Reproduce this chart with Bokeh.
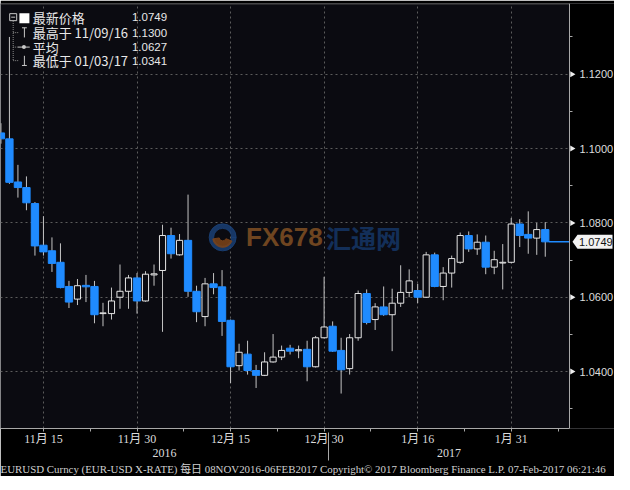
import math
from bokeh.plotting import figure
from bokeh.models import (ColumnDataSource, LinearAxis, FixedTicker, Range1d, Grid, Title)
from bokeh.core.properties import value
from bokeh.embed import file_html
from bokeh.resources import INLINE

# ---------------- data ----------------
dates = [
    "2016-11-08", "2016-11-09", "2016-11-10", "2016-11-11", "2016-11-14", "2016-11-15",
    "2016-11-16", "2016-11-17", "2016-11-18", "2016-11-21", "2016-11-22", "2016-11-23",
    "2016-11-24", "2016-11-25", "2016-11-28", "2016-11-29", "2016-11-30",
    "2016-12-01", "2016-12-02", "2016-12-05", "2016-12-06", "2016-12-07", "2016-12-08",
    "2016-12-09", "2016-12-12", "2016-12-13", "2016-12-14", "2016-12-15", "2016-12-16",
    "2016-12-19", "2016-12-20", "2016-12-21", "2016-12-22", "2016-12-23", "2016-12-26",
    "2016-12-27", "2016-12-28", "2016-12-29", "2016-12-30",
    "2017-01-02", "2017-01-03", "2017-01-04", "2017-01-05", "2017-01-06", "2017-01-09",
    "2017-01-10", "2017-01-11", "2017-01-12", "2017-01-13", "2017-01-16", "2017-01-17",
    "2017-01-18", "2017-01-19", "2017-01-20", "2017-01-23", "2017-01-24", "2017-01-25",
    "2017-01-26", "2017-01-27", "2017-01-30", "2017-01-31",
    "2017-02-01", "2017-02-02", "2017-02-03", "2017-02-06",
]
opens = [
    1.1042, 1.1026, 1.0910, 1.0895, 1.0852, 1.0740, 1.0725, 1.0694, 1.0629, 1.0595,
    1.0632, 1.0629, 1.0556, 1.0556, 1.0600, 1.0616, 1.0652, 1.0590, 1.0660, 1.0672,
    1.0766, 1.0714, 1.0753, 1.0616, 1.0548, 1.0636, 1.0628, 1.0538, 1.0416, 1.0447,
    1.0403, 1.0390, 1.0426, 1.0439, 1.0463, 1.0456, 1.0460, 1.0413, 1.0491, 1.0522,
    1.0457, 1.0408, 1.0491, 1.0610, 1.0540, 1.0574, 1.0553, 1.0584, 1.0613, 1.0618,
    1.0600, 1.0714, 1.0629, 1.0665, 1.0694, 1.0766, 1.0730, 1.0748, 1.0681, 1.0692,
    1.0694, 1.0797, 1.0769, 1.0759, 1.0782,
]
highs = [
    1.1068, 1.1300, 1.0956, 1.0925, 1.0856, 1.0818, 1.0761, 1.0745, 1.0644, 1.0649,
    1.0660, 1.0644, 1.0585, 1.0626, 1.0688, 1.0660, 1.0665, 1.0670, 1.0688, 1.0795,
    1.0787, 1.0770, 1.0876, 1.0631, 1.0652, 1.0665, 1.0673, 1.0540, 1.0475, 1.0483,
    1.0418, 1.0452, 1.0501, 1.0470, 1.0472, 1.0470, 1.0483, 1.0496, 1.0655, 1.0535,
    1.0491, 1.0501, 1.0618, 1.0621, 1.0584, 1.0629, 1.0623, 1.0686, 1.0675, 1.0636,
    1.0722, 1.0720, 1.0681, 1.0712, 1.0774, 1.0777, 1.0769, 1.0766, 1.0725, 1.0743,
    1.0813, 1.0810, 1.0831, 1.0800, 1.0802,
]
lows = [
    1.1013, 1.0905, 1.0868, 1.0834, 1.0712, 1.0712, 1.0668, 1.0624, 1.0571, 1.0579,
    1.0587, 1.0530, 1.0522, 1.0540, 1.0569, 1.0569, 1.0556, 1.0588, 1.0631, 1.0507,
    1.0704, 1.0712, 1.0601, 1.0533, 1.0522, 1.0608, 1.0496, 1.0369, 1.0403, 1.0392,
    1.0356, 1.0388, 1.0424, 1.0431, 1.0446, 1.0436, 1.0374, 1.0411, 1.0489, 1.0453,
    1.0341, 1.0392, 1.0483, 1.0527, 1.0512, 1.0550, 1.0455, 1.0574, 1.0600, 1.0584,
    1.0598, 1.0627, 1.0592, 1.0626, 1.0690, 1.0722, 1.0714, 1.0662, 1.0662, 1.0621,
    1.0691, 1.0735, 1.0717, 1.0714, 1.0709,
]
closes = [
    1.1026, 1.0909, 1.0895, 1.0854, 1.0738, 1.0722, 1.0691, 1.0626, 1.0587, 1.0631,
    1.0628, 1.0553, 1.0558, 1.0590, 1.0616, 1.0652, 1.0590, 1.0662, 1.0663, 1.0766,
    1.0717, 1.0753, 1.0616, 1.0561, 1.0636, 1.0626, 1.0535, 1.0413, 1.0452, 1.0403,
    1.0390, 1.0426, 1.0439, 1.0457, 1.0455, 1.0459, 1.0413, 1.0491, 1.0520, 1.0455,
    1.0405, 1.0491, 1.0610, 1.0532, 1.0574, 1.0553, 1.0584, 1.0613, 1.0644, 1.0600,
    1.0714, 1.0629, 1.0665, 1.0704, 1.0766, 1.0730, 1.0748, 1.0681, 1.0701, 1.0694,
    1.0797, 1.0766, 1.0759, 1.0782, 1.0749,
]

y_major = [1.04, 1.06, 1.08, 1.10, 1.12]
y_minor = [1.03, 1.05, 1.07, 1.09, 1.11, 1.13]
x_major_dates = ["2016-11-15", "2016-11-30", "2016-12-15", "2016-12-30", "2017-01-16", "2017-01-31"]

legend_labels = ["最新价格", "最高于 11/09/16", "平均", "最低于 01/03/17"]
avg_value = 1.0627
footer_text = ("EURUSD Curncy (EUR-USD X-RATE)  每日 08NOV2016-06FEB2017  "
               "Copyright\u00a9 2017 Bloomberg Finance L.P.  07-Feb-2017 06:21:46")
watermark_latin = "FX678"
watermark_cjk = "汇通网"

# ---------------- style ----------------
BG = "#0b0b11"
BLUE = "#1f8bff"
WHITE = "#e6e6e6"
WICK = "#c4c4c4"
GRID = "#5c5c5c"
AXIS = "#a8a8a8"
SERIF = "'Liberation Serif', 'Noto Sans CJK SC'"
SANS = "'Liberation Sans', 'Noto Sans CJK SC'"

W = 614                    # canvas width
PW, FH = 569, 425          # plotting width (left of the price axis), frame height
x0, xa = -0.05, 66.85      # visible index range up to the price axis
x_end = x0 + (xa - x0) * W / PW
y0, y1 = 1.0247, 1.1390
ppx = (xa - x0) / PW       # data units per pixel (x)
ppy = (y1 - y0) / FH       # data units per pixel (y)

n = len(dates)
xs = list(range(n))

# helpers mapping reference-image pixel layout to the chart's own scale
def ix(rx):
    return (rx - 0.4) / 8.73

def py(ry):
    return 1.08 + (230 - ry) / 3850.0

p = figure(frame_width=W, frame_height=FH, output_backend="svg", toolbar_location=None,
           x_range=Range1d(x0, x_end), y_range=Range1d(y0, y1),
           x_axis_location=None, y_axis_location=None,
           min_border_left=0, min_border_right=0, min_border_top=3, min_border_bottom=46,
           background_fill_color=BG, border_fill_color="#000000", outline_line_color=None)
p.center = []

# tickers
x_major = [dates.index(d) for d in x_major_dates]
x_minor = [(a + b) / 2 for a, b in zip(x_major[:-1], x_major[1:])] + [x_major[-1] + (x_major[1] - x_major[0]) / 2]
xt = FixedTicker(ticks=x_major, minor_ticks=x_minor)
yt = FixedTicker(ticks=y_major, minor_ticks=y_minor)

p.add_layout(Grid(dimension=0, ticker=xt, grid_line_color=GRID, grid_line_dash="2 3", grid_line_width=1), "center")
p.add_layout(Grid(dimension=1, ticker=yt, grid_line_color=GRID, grid_line_dash="2 3", grid_line_width=1), "center")

# black area right of the price axis
p.quad(left=[xa], right=[x_end], bottom=[y0], top=[y1], fill_color="#000000", line_color=None)
# thin top border
p.segment(x0=[x0], x1=[xa], y0=[y1 - 0.5 * ppy], y1=[y1 - 0.5 * ppy], line_color="#4a4a4a", line_width=1)

# ---------------- candles ----------------
up_i = [i for i in xs if closes[i] >= opens[i]]
dn_i = [i for i in xs if closes[i] < opens[i]]

p.segment(x0=xs, y0=lows, x1=xs, y1=highs, line_color=WICK, line_width=1)
src_up = ColumnDataSource(dict(x=up_i, top=[closes[i] for i in up_i], bottom=[opens[i] for i in up_i]))
src_dn = ColumnDataSource(dict(x=dn_i, top=[opens[i] for i in dn_i], bottom=[closes[i] for i in dn_i]))
p.vbar(x="x", top="top", bottom="bottom", width=0.72, source=src_up,
       fill_color=BG, line_color=WHITE, line_width=1)
p.vbar(x="x", top="top", bottom="bottom", width=0.86, source=src_dn,
       fill_color=BLUE, line_color=BLUE, line_width=1)

last = closes[-1]
p.segment(x0=[n - 1 + 0.43], x1=[xa], y0=[last], y1=[last], line_color=BLUE, line_width=1.5)

# ---------------- axes ----------------
x_labels = {}
for d in x_major_dates:
    yy, mm, dd = d.split("-")
    x_labels[dates.index(d)] = f"{int(mm)}月 {int(dd)}"

xax = LinearAxis(ticker=xt, major_label_overrides=x_labels, bounds=(x0, xa),
                 axis_line_color=AXIS, major_tick_line_color=AXIS, minor_tick_line_color=AXIS,
                 major_tick_in=0, major_tick_out=3, minor_tick_in=0, minor_tick_out=3,
                 major_label_standoff=0, major_label_text_color="#dcdcdc",
                 major_label_text_font=SERIF, major_label_text_font_size="12px")
p.add_layout(xax, "below")

years = [d[:4] for d in dates]
boundary = years.index("2017") - 0.5
c16 = round((x0 + boundary) / 2, 2)
c17 = round((boundary + xa) / 2, 2)
yrax = LinearAxis(ticker=FixedTicker(ticks=[c16, c17], minor_ticks=[boundary]),
                  major_label_overrides={c16: "2016", c17: "2017"},
                  axis_line_color=None, major_tick_line_color=None, major_tick_in=0, major_tick_out=0,
                  minor_tick_line_color=AXIS, minor_tick_in=16, minor_tick_out=12,
                  major_label_standoff=-12, major_label_text_color="#dcdcdc",
                  major_label_text_font=SERIF, major_label_text_font_size="12px")
p.add_layout(yrax, "below")

p.add_layout(Title(text=footer_text, align="left", text_font=SERIF, text_font_size="10.9px",
                   text_color="#d0d0d0", text_font_style="normal", standoff=3, offset=0), "below")

# price axis, fixed at the right edge of the plotting area
yax = LinearAxis(ticker=yt, fixed_location=xa,
                 major_label_overrides={v: f"{v:.4f}" for v in y_major},
                 axis_line_color=AXIS, major_tick_in=0, major_tick_out=0,
                 minor_tick_line_color=AXIS, minor_tick_in=0, minor_tick_out=3,
                 major_label_standoff=7, major_label_text_color="#dddddd",
                 major_label_text_font=SANS, major_label_text_font_size="11px")
p.add_layout(yax, "right")

# triangle markers at the major ticks
p.scatter(x=[xa + 2.5 * ppx] * len(y_major), y=y_major, marker="triangle", angle=-math.pi / 2,
          size=6, fill_color="#eeeeee", line_color=None)

# last price tag
p.patch(x=[xa + 3 * ppx, xa + 8 * ppx, xa + 43 * ppx, xa + 43 * ppx, xa + 8 * ppx],
        y=[last, last + 7 * ppy, last + 7 * ppy, last - 7 * ppy, last - 7 * ppy],
        fill_color="#f2f2f2", line_color=None)
p.text(x=[xa + 9.5 * ppx], y=[last], text=[f"{last:.4f}"], text_font=value("Liberation Sans"),
       text_font_size="11px", text_color="#111111", text_baseline="middle", text_align="left")

# ---------------- watermark ----------------
p.annular_wedge(x=[ix(228)], y=[py(245)], inner_radius=9, outer_radius=13.5,
                inner_radius_units="screen", outer_radius_units="screen",
                start_angle=0, end_angle=2 * math.pi, color="#1a3f74", alpha=0.85)
p.annular_wedge(x=[ix(228)], y=[py(245)], inner_radius=3.5, outer_radius=10,
                inner_radius_units="screen", outer_radius_units="screen",
                start_angle=3.3, end_angle=5.9, color="#7e4419", alpha=0.85)
p.text(x=[ix(252)], y=[py(245)], text=[watermark_latin], text_font=value("Liberation Sans"),
       text_font_style="bold", text_font_size="26px", text_color="#6f4520",
       text_baseline="middle", text_align="left")
p.text(x=[ix(334)], y=[py(245)], text=[watermark_cjk], text_font=value("Noto Sans CJK SC"),
       text_font_style="bold", text_font_size="25px", text_color="#132f59",
       text_baseline="middle", text_align="left")

# ---------------- legend (top left) ----------------
rows = [17, 33, 48, 62]
leg_vals = [last, max(highs), avg_value, min(lows)]
p.text(x=[ix(33)] * 4, y=[py(r) for r in rows], text=legend_labels,
       text_font=value("Noto Sans CJK SC"), text_font_size="13px", text_color="#e8e8e8",
       text_baseline="middle", text_align="left")
p.text(x=[ix(171)] * 4, y=[py(r) for r in rows], text=[f"{v:.4f}" for v in leg_vals],
       text_font=value("Liberation Sans"), text_font_size="11.5px", text_color="#e8e8e8",
       text_baseline="middle", text_align="right")
SYM = "#c8c8c8"
p.scatter(x=[ix(13)], y=[py(17)], marker="square", size=7, fill_color=None, line_color=SYM)
p.scatter(x=[ix(13)], y=[py(17)], marker="dash", size=4, line_color=SYM)
p.scatter(x=[ix(24.5)], y=[py(18)], marker="square", size=10, fill_color="#ffffff", line_color=None)
p.segment(x0=[ix(13)], y0=[py(21)], x1=[ix(13)], y1=[py(62)], line_color="#8a8a8a", line_dash="1 1")
p.segment(x0=[ix(13)] * 3, y0=[py(r) for r in rows[1:]], x1=[ix(19)] * 3, y1=[py(r) for r in rows[1:]],
          line_color="#8a8a8a", line_dash="1 1")
p.segment(x0=[ix(22), ix(24.5)], y0=[py(28), py(28)], x1=[ix(27), ix(24.5)], y1=[py(28), py(38)],
          line_color=SYM, line_width=1)
p.segment(x0=[ix(18)], y0=[py(48)], x1=[ix(30)], y1=[py(48)], line_color=SYM, line_width=1)
p.scatter(x=[ix(24)], y=[py(48)], marker="circle", size=4, fill_color=SYM, line_color=None)
p.segment(x0=[ix(22), ix(24.5)], y0=[py(67), py(57)], x1=[ix(27), ix(24.5)], y1=[py(67), py(67)],
          line_color=SYM, line_width=1)

open("out.html", "w").write(file_html(p, INLINE))
